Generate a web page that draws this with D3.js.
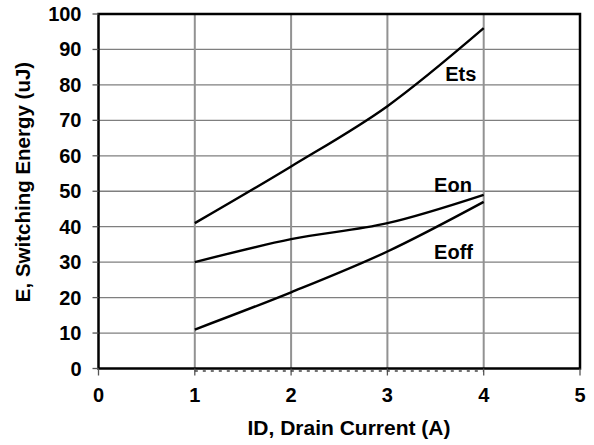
<!DOCTYPE html>
<html>
<head>
<meta charset="utf-8">
<script src="https://cdn.jsdelivr.net/npm/d3@7"></script>
<style>
  body { margin: 0; background: #fff; }
  text { font-family: "Liberation Sans", Arial, sans-serif; font-weight: bold; }
</style>
</head>
<body>
<svg id="chart" width="594" height="445"></svg>
<script>
const current = [1, 2, 3, 4];
const ets = [41, 57, 74, 96];
const eon = [30, 36.5, 41, 49];
const eoff = [11, 21.5, 33, 47];
const zeroLine = [0, 0, 0, 0];

const xTicks = [0, 1, 2, 3, 4, 5];
const yTicks = [0, 10, 20, 30, 40, 50, 60, 70, 80, 90, 100];

const labels = [
  { name: "Ets", x: 3.6, y: 81.1 },
  { name: "Eon", x: 3.485, y: 49.9 },
  { name: "Eoff", x: 3.485, y: 30.9 }
];

const margin = { top: 14, right: 14, bottom: 76.5, left: 98.5 };
const width = 594, height = 445;

const svg = d3.select("#chart");

const x = d3.scaleLinear().domain([0, 5]).range([margin.left, width - margin.right]);
const y = d3.scaleLinear().domain([0, 100]).range([height - margin.bottom, margin.top]);

// grid
svg.append("g")
  .selectAll("line")
  .data(yTicks.filter((d) => d > 0 && d < 100))
  .enter()
  .append("line")
  .attr("x1", x(0)).attr("x2", x(5))
  .attr("y1", (d) => y(d)).attr("y2", (d) => y(d))
  .attr("stroke", "#7f7f7f")
  .attr("stroke-width", 1.3);

svg.append("g")
  .selectAll("line")
  .data(xTicks.filter((d) => d > 0 && d < 5))
  .enter()
  .append("line")
  .attr("x1", (d) => x(d)).attr("x2", (d) => x(d))
  .attr("y1", y(0)).attr("y2", y(100))
  .attr("stroke", "#929292")
  .attr("stroke-width", 2);

// frame
svg.append("rect")
  .attr("x", x(0)).attr("y", y(100))
  .attr("width", x(5) - x(0)).attr("height", y(0) - y(100))
  .attr("fill", "none")
  .attr("stroke", "#000")
  .attr("stroke-width", 2.5);

// x ticks
svg.append("g")
  .selectAll("line")
  .data(xTicks)
  .enter()
  .append("line")
  .attr("x1", (d) => x(d)).attr("x2", (d) => x(d))
  .attr("y1", y(0)).attr("y2", y(0) + 7)
  .attr("stroke", "#555")
  .attr("stroke-width", 1.3);

// y ticks
svg.append("g")
  .selectAll("line")
  .data(yTicks)
  .enter()
  .append("line")
  .attr("x1", x(0) - 6).attr("x2", x(0))
  .attr("y1", (d) => y(d)).attr("y2", (d) => y(d))
  .attr("stroke", "#555")
  .attr("stroke-width", 1.3);

svg.append("g")
  .selectAll("text")
  .data(xTicks)
  .enter()
  .append("text")
  .attr("x", (d) => x(d))
  .attr("y", y(0) + 33)
  .attr("text-anchor", "middle")
  .attr("font-size", 20)
  .text((d) => d);

svg.append("g")
  .selectAll("text")
  .data(yTicks)
  .enter()
  .append("text")
  .attr("x", x(0) - 17)
  .attr("y", (d) => y(d) + 7)
  .attr("text-anchor", "end")
  .attr("font-size", 20)
  .text((d) => d);

// axis titles
svg.append("text")
  .attr("x", 349)
  .attr("y", 435)
  .attr("text-anchor", "middle")
  .attr("font-size", 21)
  .text("ID, Drain Current (A)");

svg.append("text")
  .attr("transform", "translate(30, 182) rotate(-90)")
  .attr("text-anchor", "middle")
  .attr("font-size", 20.5)
  .text("E, Switching Energy (uJ)");

// series
const line = d3.line()
  .x((d) => x(d[0]))
  .y((d) => y(d[1]))
  .curve(d3.curveMonotoneX);

[ets, eon, eoff].forEach((series) => {
  svg.append("path")
    .datum(current.map((c, i) => [c, series[i]]))
    .attr("d", line)
    .attr("fill", "none")
    .attr("stroke", "#000")
    .attr("stroke-width", 2.4);
});

svg.append("path")
  .datum(current.map((c, i) => [c, zeroLine[i]]))
  .attr("d", line)
  .attr("transform", "translate(0,2.5)")
  .attr("fill", "none")
  .attr("stroke", "#444")
  .attr("stroke-width", 1.5)
  .attr("stroke-dasharray", "3,5");

svg.append("g")
  .selectAll("text")
  .data(labels)
  .enter()
  .append("text")
  .attr("x", (d) => x(d.x))
  .attr("y", (d) => y(d.y))
  .attr("font-size", 20)
  .text((d) => d.name);
</script>
</body>
</html>
